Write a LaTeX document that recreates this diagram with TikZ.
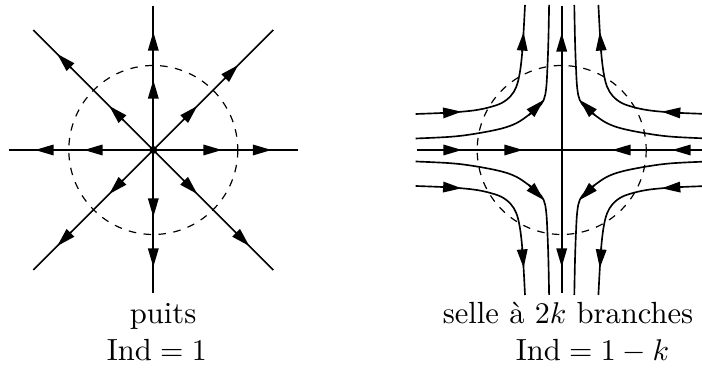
\documentclass[tikz,border=0pt]{standalone}
\usetikzlibrary{arrows.meta,calc}
\begin{document}
\begin{tikzpicture}[x=0.3333pt,y=-0.3333pt,
  line width=0.55pt,
  arr/.style={-{Triangle[length=6.2pt,width=3.5pt]}},
  dcirc/.style={dash pattern=on 2.5pt off 2.5pt, line width=0.4pt},
  lbl/.style={anchor=base west, inner sep=0pt, font=\fontsize{10.2pt}{12pt}\selectfont}]
\useasboundingbox (0,0) rectangle (702,372);

% ---------- left: puits ----------
\coordinate (O) at (153.3,150);
\draw[dcirc] (O) circle[radius=84.5];
\draw (9.3,150) -- (297.7,150);
\draw (153.3,6) -- (153.3,293.3);
\draw (33.3,30) -- (273.3,270);
\draw (273.3,30) -- (33.3,270);
\fill (O) circle[radius=4];
% horizontal arrows
\draw[arr] (202,150) -- (222,150);
\draw[arr] (252,150) -- (271.5,150);
\draw[arr] (104,150) -- (84,150);
\draw[arr] (55,150) -- (35,150);
% vertical arrows
\draw[arr] (153.3,100) -- (153.3,80);
\draw[arr] (153.3,52) -- (153.3,32);
\draw[arr] (153.3,197) -- (153.3,217);
\draw[arr] (153.3,247) -- (153.3,267);
% diagonal arrows
\draw[arr] ($(O)+(30,-30)$) -- ($(O)+(44,-44)$);
\draw[arr] ($(O)+(71,-71)$) -- ($(O)+(85,-85)$);
\draw[arr] ($(O)+(-30,-30)$) -- ($(O)+(-44,-44)$);
\draw[arr] ($(O)+(-82,-82)$) -- ($(O)+(-96,-96)$);
\draw[arr] ($(O)+(-30,30)$) -- ($(O)+(-44,44)$);
\draw[arr] ($(O)+(-82,82)$) -- ($(O)+(-96,96)$);
\draw[arr] ($(O)+(30,30)$) -- ($(O)+(44,44)$);
\draw[arr] ($(O)+(82,82)$) -- ($(O)+(96,96)$);

\node[lbl] (puits) at (129,324) {puits};
\node[lbl] (ind1) at (106,361) {Ind${}=1$};

% ---------- right: selle ----------
\coordinate (C) at (561.7,150);
\draw[dcirc] (C) circle[radius=84.5];
\draw (417,150) -- (702,150);
\draw (561.7,6) -- (561.7,293);
\draw[arr] (442,150) -- (462,150);
\draw[arr] (503,150) -- (523,150);
\draw[arr] (632,150) -- (612,150);
\draw[arr] (692,150) -- (672,150);
\draw[arr] (561.7,53) -- (561.7,33);
\draw[arr] (561.7,247) -- (561.7,267);

\foreach \sx/\sy in {-1/-1,1/-1,-1/1,1/1}{
  \begin{scope}[shift={(C)}, xscale=\sx, yscale=\sy]
    % outer trajectory
    \draw plot[smooth, tension=0.6] coordinates {(146,36) (120,37) (100,38.3) (85,40) (72,42.8) (60,47) (51,54) (45.5,63) (42.3,75) (40,92) (38.3,115) (36.7,145)};
    \draw[arr] (120,37) -- (100,38.3);
    \draw[arr] (39.6,98) -- (38.1,118);
    % inner trajectory
    \draw plot[smooth, tension=0.6] coordinates {(146,11.5) (110,13.3) (85,16.5) (60,21.5) (45,27) (33,35) (24,42) (18,50) (15.5,62) (14.3,82) (13.3,110) (12.6,145)};
    \draw[arr] (33,35) -- (18,50);
  \end{scope}
}

\node[lbl] (selle) at (442,324) {selle \`a $2k$ branches};
\node[lbl] (ind2) at (515,361) {Ind${}=1-k$};
\end{tikzpicture}
\end{document}
